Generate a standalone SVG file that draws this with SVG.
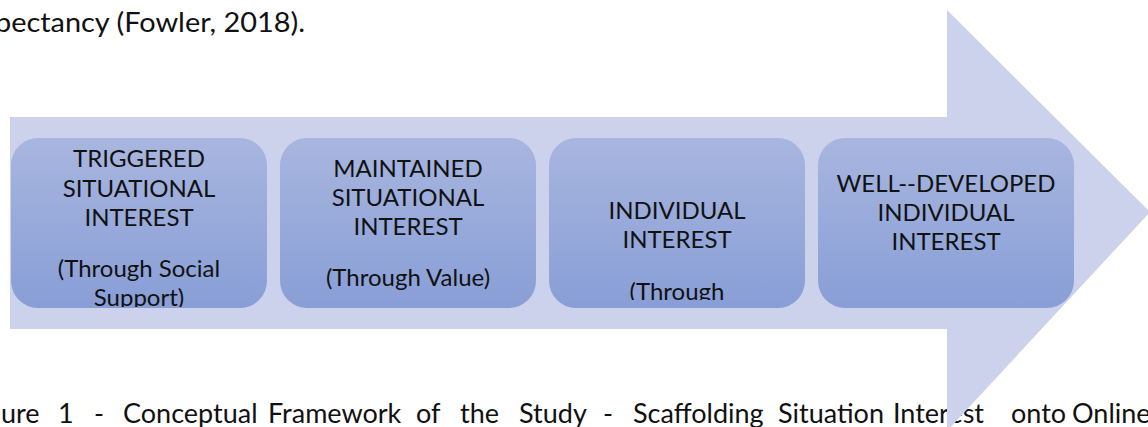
<svg xmlns="http://www.w3.org/2000/svg" width="1148" height="427" viewBox="0 0 1148 427">
  <style>
    .body { font-family: Lato, "Open Sans", "DejaVu Sans", sans-serif; font-size: 27px; fill: #111; }
    .label { font-family: Lato, "Open Sans", "DejaVu Sans", sans-serif; font-size: 24px; fill: #111; text-anchor: middle; }
    .stage { fill: url(#stageFill); }
  </style>
  <defs>
    <linearGradient id="stageFill" x1="0" y1="0" x2="0" y2="1">
      <stop offset="0" stop-color="#a8b6df"/>
      <stop offset="1" stop-color="#889ed6"/>
    </linearGradient>
    <clipPath id="clipStage1"><rect x="11" y="138" width="256" height="169"/></clipPath>
    <clipPath id="clipStage3"><rect x="549" y="138" width="256" height="162"/></clipPath>
  </defs>

  <rect width="1148" height="427" fill="#ffffff"/>

  <!-- surrounding document text -->
  <text class="body" x="-5" y="32" textLength="310" lengthAdjust="spacingAndGlyphs">pectancy (Fowler, 2018).</text>
  <text class="body" y="423">
    <tspan x="1">ure</tspan>
    <tspan x="58">1</tspan>
    <tspan x="94">-</tspan>
    <tspan x="123">Conceptual</tspan>
    <tspan x="268">Framework</tspan>
    <tspan x="416">of</tspan>
    <tspan x="460">the</tspan>
    <tspan x="519">Study</tspan>
    <tspan x="603">-</tspan>
    <tspan x="633">Scaffolding</tspan>
    <tspan x="778">Situation</tspan>
    <tspan x="893">Interest</tspan>
    <tspan x="1011">onto</tspan>
    <tspan x="1072">Online</tspan>
  </text>

  <!-- progression arrow behind the stages -->
  <g id="connectors">
    <polygon id="process-arrow" fill="#ccd2eb" points="10,117 947,117 947,10 1150,212 947,431 947,329 10,329"/>
  </g>

  <g id="stage-triggered">
    <rect class="stage" x="11" y="138" width="256" height="170" rx="27"/>
    <g clip-path="url(#clipStage1)">
      <text class="label" x="139" y="167">TRIGGERED</text>
      <text class="label" x="139" y="196.5">SITUATIONAL</text>
      <text class="label" x="139" y="226">INTEREST</text>
      <text class="label" x="139" y="277">(Through Social</text>
      <text class="label" x="139" y="306">Support)</text>
    </g>
  </g>

  <g id="stage-maintained">
    <rect class="stage" x="280" y="138" width="256" height="170" rx="27"/>
    <text class="label" x="408" y="176.5">MAINTAINED</text>
    <text class="label" x="408" y="206">SITUATIONAL</text>
    <text class="label" x="408" y="234.5">INTEREST</text>
    <text class="label" x="408" y="286">(Through Value)</text>
  </g>

  <g id="stage-individual">
    <rect class="stage" x="549" y="138" width="256" height="170" rx="27"/>
    <g clip-path="url(#clipStage3)">
      <text class="label" x="677" y="219">INDIVIDUAL</text>
      <text class="label" x="677" y="247.5">INTEREST</text>
      <text class="label" x="677" y="299.5">(Through</text>
    </g>
  </g>

  <g id="stage-well-developed">
    <rect class="stage" x="818" y="138" width="256" height="170" rx="27"/>
    <text class="label" x="946" y="192">WELL--DEVELOPED</text>
    <text class="label" x="946" y="221">INDIVIDUAL</text>
    <text class="label" x="946" y="250">INTEREST</text>
  </g>
</svg>
